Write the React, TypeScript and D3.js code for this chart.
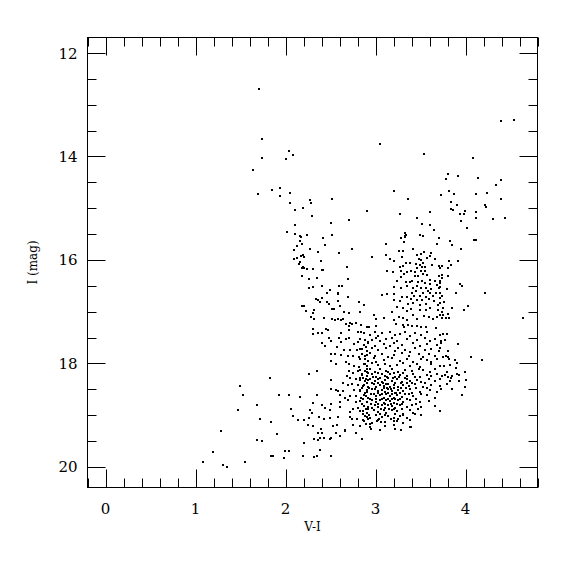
import React, { useEffect, useRef } from 'react';
import * as d3 from 'd3';

// [V-I, I] pairs, grouped by region of the diagram
const upperPoints: [number, number][] = [
  [1.71, 12.70], [1.74, 13.67], [1.74, 14.02], [1.64, 14.26], [2.04, 13.89], [2.08, 13.97], [2.01, 14.05],
  [1.85, 14.65], [1.94, 14.60], [1.69, 14.73], [1.94, 14.77], [2.05, 14.71], [2.05, 14.90], [2.19, 14.99],
  [2.11, 15.03], [2.27, 14.84], [2.28, 14.90], [2.52, 14.83], [2.29, 15.16], [2.11, 15.33], [2.50, 15.28],
  [2.71, 15.23], [2.91, 15.05], [3.05, 13.76], [3.21, 14.67], [3.36, 14.83], [3.27, 15.12],
];

const rightPoints: [number, number][] = [
  [4.39, 13.32], [4.54, 13.30], [3.54, 13.96], [4.08, 14.02], [3.81, 14.34], [3.78, 14.44], [3.92, 14.38],
  [4.14, 14.42], [4.39, 14.45], [4.34, 14.55], [3.82, 14.67], [3.87, 14.73], [3.73, 14.75], [4.12, 14.72],
  [4.24, 14.70], [4.39, 14.82], [3.84, 14.88], [3.90, 14.93], [4.22, 14.93], [4.23, 14.97], [3.61, 15.08],
  [3.84, 15.02], [3.86, 15.04], [3.99, 15.06], [4.12, 15.08], [3.94, 15.12], [3.98, 15.12], [4.12, 15.18],
  [4.30, 15.20], [4.44, 15.19], [3.95, 15.24], [3.46, 15.19], [3.52, 15.30], [3.60, 15.33], [3.65, 15.42],
  [4.02, 15.39], [3.49, 15.52], [3.53, 15.53], [3.70, 15.57], [3.33, 15.53], [3.33, 15.56], [3.28, 15.57],
  [4.09, 15.61], [4.12, 15.61], [3.83, 15.64], [3.85, 15.72], [3.95, 15.79], [3.92, 16.02], [3.82, 16.03],
  [3.84, 16.10], [3.74, 16.12], [3.72, 16.15], [3.80, 16.16], [3.74, 16.29], [3.80, 16.31], [3.72, 16.40],
  [3.94, 16.46], [3.96, 16.51], [3.72, 16.53], [3.79, 16.56], [3.89, 16.64], [4.22, 16.64], [3.72, 16.64],
  [3.72, 16.74], [3.76, 16.82], [3.72, 16.84], [4.03, 16.90], [3.85, 16.92], [3.98, 16.96], [3.74, 17.00],
  [3.75, 17.06], [3.80, 17.05], [3.74, 17.12], [4.64, 17.12], [3.75, 17.44], [3.79, 17.44], [3.73, 17.56],
  [3.77, 17.54], [3.92, 17.63], [3.72, 17.70], [3.81, 17.76], [4.06, 17.88], [4.18, 17.94], [3.78, 17.85],
  [3.80, 17.87], [3.75, 17.88], [3.82, 17.91], [3.91, 17.99], [3.76, 18.05], [3.89, 18.08], [3.99, 18.16],
  [3.79, 18.16], [3.91, 18.20], [3.93, 18.23], [3.77, 18.22], [3.74, 18.25], [3.80, 18.26], [3.84, 18.29],
  [3.74, 16.34], [3.72, 16.44], [3.74, 16.69], [3.75, 16.92], [3.72, 17.07], [3.78, 17.12], [3.82, 17.12],
  [3.93, 18.35], [3.99, 18.45], [3.85, 18.50], [3.96, 18.62],
];

const leftBranch: [number, number][] = [
  [2.02, 15.46], [2.11, 15.49], [2.16, 15.54], [2.17, 15.56], [2.24, 15.51], [2.52, 15.51], [2.42, 15.58],
  [2.16, 15.64], [2.18, 15.69], [2.13, 15.74], [2.44, 15.72], [2.27, 15.78], [2.09, 15.80], [2.74, 15.78],
  [2.59, 15.86], [2.36, 15.85], [2.19, 15.91], [2.17, 15.93], [2.21, 15.95], [2.13, 15.97], [2.09, 15.98],
  [2.16, 16.04], [2.15, 16.07], [2.39, 16.03], [2.19, 16.13], [2.18, 16.16], [2.21, 16.16], [2.24, 16.17],
  [2.30, 16.18], [2.41, 16.20], [2.42, 16.20], [2.68, 16.13], [2.18, 16.32], [2.26, 16.36], [2.35, 16.35],
  [2.69, 16.36], [2.41, 16.50], [2.26, 16.55], [2.31, 16.53], [2.49, 16.58], [2.59, 16.50], [2.63, 16.51],
  [2.58, 16.63], [2.58, 16.66], [2.46, 16.64], [2.69, 16.72], [2.40, 16.74], [2.34, 16.76], [2.36, 16.78],
  [2.46, 16.81], [2.48, 16.85], [2.38, 16.82], [2.58, 16.79], [2.82, 16.82], [2.87, 16.88], [2.60, 16.90],
  [2.18, 16.89], [2.21, 16.89], [2.52, 16.95], [2.54, 16.94], [2.23, 16.98], [2.30, 17.03], [2.28, 17.10],
  [2.32, 16.96], [2.65, 17.01], [2.70, 17.02], [2.83, 17.00], [2.32, 17.14], [2.43, 17.12], [2.52, 17.14],
  [2.55, 17.16], [2.58, 17.14], [2.62, 17.16], [2.64, 17.15], [2.67, 17.23], [2.72, 17.21], [2.74, 17.23],
  [2.78, 17.22], [2.84, 17.26], [2.71, 17.28], [2.90, 17.30], [2.31, 17.34], [2.45, 17.33], [2.47, 17.35],
];

const upperGiants: [number, number][] = [
  [3.12, 15.69], [3.32, 15.66], [3.68, 15.69], [3.42, 15.78], [3.26, 15.82], [3.31, 15.82], [3.54, 15.85],
  [3.50, 15.88], [3.46, 15.91], [3.62, 15.87], [3.12, 15.90], [2.96, 15.95], [3.16, 15.98], [3.20, 16.03],
  [3.29, 15.95], [3.48, 15.98], [3.50, 16.01], [3.57, 15.97], [3.61, 15.93], [3.66, 15.99], [3.38, 16.05],
  [3.34, 16.05], [3.45, 16.07], [3.49, 16.09], [3.53, 16.06], [3.27, 16.13], [3.30, 16.11], [3.46, 16.16],
  [3.52, 16.13], [3.55, 16.14], [3.63, 16.09], [3.71, 16.11], [3.13, 16.21], [3.19, 16.24], [3.28, 16.21],
  [3.35, 16.23], [3.39, 16.22], [3.44, 16.24], [3.51, 16.22], [3.55, 16.22], [3.57, 16.29], [3.53, 16.28],
  [3.47, 16.31], [3.44, 16.32], [3.28, 16.33], [3.32, 16.28], [3.61, 16.38], [3.70, 16.31], [3.66, 16.40],
  [3.24, 16.41], [3.34, 16.42], [3.38, 16.42], [3.41, 16.40], [3.47, 16.42], [3.52, 16.40], [3.55, 16.45],
  [3.61, 16.46], [3.68, 16.49], [3.21, 16.53], [3.28, 16.54], [3.35, 16.51], [3.42, 16.54], [3.46, 16.51],
  [3.50, 16.54], [3.56, 16.55], [3.62, 16.56], [3.71, 16.54], [3.40, 16.63], [3.45, 16.61], [3.53, 16.63],
  [3.58, 16.60], [3.61, 16.63], [3.67, 16.64], [3.07, 16.67], [3.13, 16.66], [3.21, 16.66], [3.29, 16.71],
  [3.35, 16.71], [3.43, 16.69], [3.49, 16.70], [3.56, 16.71], [3.64, 16.69], [3.39, 16.76], [3.46, 16.77],
  [3.52, 16.78], [3.59, 16.76], [3.65, 16.79], [3.20, 16.78], [3.27, 16.80], [3.36, 16.85], [3.42, 16.84],
  [3.49, 16.87], [3.56, 16.85], [3.69, 16.87], [3.24, 16.91], [3.30, 16.93], [3.35, 16.98], [3.39, 16.94],
  [3.49, 16.96], [3.56, 16.96], [3.61, 16.93], [3.69, 16.96], [3.18, 17.01], [2.98, 17.06], [3.01, 17.15],
  [3.09, 17.13], [3.20, 17.17], [3.26, 17.10], [3.31, 17.13], [3.35, 17.16], [3.42, 17.07], [3.46, 17.14],
  [3.54, 17.09], [3.59, 17.11], [3.64, 17.14], [3.68, 17.10], [3.23, 17.23], [3.31, 17.25], [3.36, 17.25],
  [3.41, 17.27], [3.46, 17.27], [3.50, 17.29], [3.56, 17.29], [3.67, 17.31], [2.93, 17.30], [3.01, 17.28],
  [3.32, 17.30], [3.33, 15.48], [3.34, 15.52],
];

const lowerLeft: [number, number][] = [
  [2.31, 17.43], [2.36, 17.41], [2.41, 17.41], [2.48, 17.50], [2.59, 17.51], [2.62, 17.41], [2.70, 17.36],
  [2.80, 17.40], [2.84, 17.40], [2.40, 17.60], [2.51, 17.57], [2.44, 17.67], [2.62, 17.59], [2.67, 17.53],
  [2.71, 17.51], [2.76, 17.63], [2.81, 17.59], [2.88, 17.54], [2.92, 17.58], [2.57, 17.69], [2.65, 17.74],
  [2.72, 17.74], [2.79, 17.75], [2.85, 17.73], [2.89, 17.68], [2.50, 17.81], [2.55, 17.82], [2.62, 17.84],
  [2.69, 17.86], [2.75, 17.85], [2.82, 17.88], [2.91, 17.83], [2.88, 17.92], [2.50, 17.96], [2.56, 18.01],
  [2.67, 17.98], [2.70, 18.02], [2.76, 18.06], [2.82, 18.07], [2.88, 18.01], [2.91, 18.10], [2.70, 18.14],
  [2.75, 18.18], [2.80, 18.15], [2.85, 18.20], [2.90, 18.17], [2.68, 18.25], [2.72, 18.28], [2.78, 18.30],
  [2.83, 18.28], [2.89, 18.30], [2.92, 18.33], [2.26, 18.21], [2.35, 18.15], [1.83, 18.28], [2.51, 18.32],
  [2.64, 18.38], [2.74, 18.39], [2.69, 18.42], [2.80, 18.42], [2.86, 18.43], [2.56, 18.52], [2.50, 18.50],
  [2.58, 18.54], [2.64, 18.53], [2.76, 18.52], [2.83, 18.54], [2.90, 18.51], [2.61, 18.62], [2.66, 18.66],
  [2.72, 18.64], [2.78, 18.64], [2.84, 18.66], [2.89, 18.64], [1.93, 18.61], [2.04, 18.62], [2.16, 18.65],
  [2.35, 18.61], [2.31, 18.77], [2.61, 18.74], [2.69, 18.71], [2.78, 18.75], [2.85, 18.78], [2.91, 18.75],
  [2.40, 18.81], [2.51, 18.79], [2.27, 18.91], [2.29, 18.95], [2.06, 18.88], [2.44, 18.86], [2.49, 18.90],
  [2.61, 18.84], [2.72, 18.94], [2.75, 18.88], [2.81, 18.86], [2.86, 18.92], [2.92, 18.88], [2.08, 19.01],
  [2.21, 19.09], [2.26, 19.06], [2.37, 19.04], [2.43, 19.08], [2.49, 19.05], [2.58, 19.04], [2.72, 19.04],
  [2.74, 19.08], [2.79, 19.07], [2.86, 19.10], [2.91, 19.04], [1.72, 19.08], [1.84, 19.14], [2.14, 19.10],
  [2.25, 19.19], [2.31, 19.21], [2.39, 19.26], [2.53, 19.22], [2.66, 19.28], [2.75, 19.20], [2.83, 19.22],
  [2.89, 19.18],
];

const faintPoints: [number, number][] = [
  [1.50, 18.44], [1.53, 18.62], [1.68, 18.81], [1.47, 18.90], [1.28, 19.31], [1.68, 19.49], [1.74, 19.51],
  [1.90, 19.36], [1.99, 19.69], [2.04, 19.69], [1.20, 19.72], [1.08, 19.90], [1.30, 19.97], [1.35, 20.00],
  [1.55, 19.90], [1.84, 19.80], [1.86, 19.79], [1.98, 19.82], [2.19, 19.80], [2.21, 19.54], [2.32, 19.81],
  [2.35, 19.79], [2.38, 19.68], [2.50, 19.80], [2.32, 19.47], [2.36, 19.49], [2.38, 19.44], [2.43, 19.44],
  [2.49, 19.47], [2.50, 19.44], [2.36, 19.34], [2.40, 19.35], [2.56, 19.35], [2.61, 19.41], [2.66, 19.30],
  [2.78, 19.35], [2.85, 19.47], [2.94, 19.17], [2.94, 19.23], [2.95, 19.26], [3.02, 19.12], [3.06, 19.13],
  [3.11, 19.22], [3.21, 19.20], [3.24, 19.12], [3.28, 19.28], [3.39, 19.23], [2.57, 19.20],
];

const clumpPoints: [number, number][] = [
  [2.87, 17.41], [2.94, 17.45], [2.99, 17.40], [3.03, 17.47], [3.07, 17.42], [3.16, 17.39], [3.22, 17.46],
  [3.27, 17.43], [3.33, 17.40], [3.38, 17.47], [3.44, 17.42], [3.51, 17.45], [3.57, 17.40], [3.72, 17.46],
  [2.83, 17.52], [2.96, 17.55], [3.01, 17.50], [3.05, 17.57], [3.12, 17.53], [3.18, 17.50], [3.24, 17.56],
  [3.35, 17.52], [3.46, 17.55], [3.55, 17.50], [3.61, 17.57], [3.66, 17.53],
  [2.87, 17.64], [2.92, 17.60], [2.99, 17.66], [3.09, 17.62], [3.16, 17.67], [3.20, 17.61], [3.29, 17.64],
  [3.42, 17.60], [3.49, 17.66], [3.57, 17.62], [3.68, 17.65], [3.73, 17.61],
  [2.83, 17.72], [2.90, 17.76], [2.96, 17.70], [3.03, 17.74], [3.12, 17.71], [3.22, 17.77], [3.25, 17.70],
  [3.33, 17.74], [3.38, 17.78], [3.44, 17.71], [3.55, 17.75], [3.62, 17.72], [3.70, 17.77],
  [2.85, 17.82], [2.88, 17.86], [2.94, 17.80], [2.99, 17.85], [3.07, 17.81], [3.14, 17.87], [3.20, 17.83],
  [3.29, 17.80], [3.37, 17.86], [3.48, 17.82], [3.53, 17.88], [3.59, 17.81], [3.66, 17.85],
  [2.83, 17.92], [2.92, 17.95], [2.98, 17.90], [3.01, 17.97], [3.09, 17.93], [3.18, 17.90], [3.27, 17.96],
  [3.35, 17.92], [3.42, 17.97], [3.51, 17.91], [3.57, 17.94], [3.62, 17.98], [3.68, 17.92], [3.88, 17.93],
  [2.87, 18.02], [2.90, 18.06], [2.96, 18.00], [3.03, 18.04], [3.11, 18.01], [3.16, 18.06], [3.24, 18.03],
  [3.31, 18.00], [3.38, 18.05], [3.46, 18.02], [3.49, 18.07], [3.62, 18.01], [3.72, 18.05], [3.83, 18.04],
  [2.83, 18.12], [2.88, 18.15], [2.94, 18.10], [2.99, 18.16], [3.05, 18.11], [3.12, 18.14], [3.18, 18.10],
  [3.25, 18.16], [3.33, 18.12], [3.40, 18.15], [3.48, 18.10], [3.53, 18.13], [3.61, 18.17], [3.66, 18.11],
  [2.85, 18.22], [2.90, 18.25], [2.96, 18.20], [3.01, 18.26], [3.07, 18.21], [3.11, 18.24], [3.16, 18.20],
  [3.22, 18.27], [3.27, 18.22], [3.35, 18.25], [3.42, 18.21], [3.49, 18.26], [3.57, 18.22], [3.62, 18.25],
  [3.68, 18.20], [3.85, 18.24],
  [2.83, 18.32], [2.88, 18.35], [2.94, 18.30], [2.99, 18.34], [3.03, 18.31], [3.07, 18.36], [3.11, 18.32],
  [3.14, 18.29], [3.18, 18.35], [3.24, 18.31], [3.29, 18.36], [3.35, 18.30], [3.38, 18.34], [3.46, 18.32],
  [3.51, 18.36], [3.59, 18.30], [3.66, 18.34], [3.72, 18.31], [3.83, 18.35], [4.01, 18.33],
  [2.87, 18.42], [2.92, 18.45], [2.98, 18.40], [3.01, 18.46], [3.05, 18.41], [3.09, 18.44], [3.12, 18.39],
  [3.16, 18.45], [3.20, 18.42], [3.25, 18.46], [3.31, 18.41], [3.37, 18.44], [3.44, 18.40], [3.53, 18.45],
  [3.62, 18.41], [3.72, 18.44], [3.79, 18.40],
  [2.83, 18.52], [2.90, 18.55], [2.96, 18.50], [3.03, 18.54], [3.07, 18.51], [3.11, 18.56], [3.14, 18.50],
  [3.18, 18.53], [3.22, 18.57], [3.25, 18.51], [3.31, 18.54], [3.38, 18.50], [3.49, 18.55], [3.61, 18.52],
  [3.68, 18.56], [3.73, 18.50],
  [2.87, 18.62], [2.92, 18.66], [2.98, 18.60], [3.01, 18.64], [3.05, 18.61], [3.09, 18.66], [3.12, 18.60],
  [3.16, 18.63], [3.20, 18.67], [3.24, 18.61], [3.29, 18.65], [3.37, 18.60], [3.42, 18.64], [3.57, 18.62],
  [3.66, 18.66],
  [2.83, 18.72], [2.90, 18.75], [2.96, 18.70], [3.01, 18.74], [3.05, 18.71], [3.09, 18.76], [3.12, 18.70],
  [3.16, 18.73], [3.20, 18.77], [3.25, 18.71], [3.31, 18.74], [3.38, 18.70], [3.49, 18.75], [3.59, 18.72],
  [2.87, 18.82], [2.92, 18.85], [2.99, 18.80], [3.03, 18.84], [3.07, 18.81], [3.11, 18.86], [3.14, 18.80],
  [3.18, 18.83], [3.22, 18.87], [3.27, 18.81], [3.35, 18.85], [3.40, 18.80], [3.51, 18.84], [3.66, 18.82],
  [2.83, 18.92], [2.90, 18.95], [2.98, 18.90], [3.03, 18.94], [3.09, 18.91], [3.12, 18.96], [3.18, 18.90],
  [3.24, 18.93], [3.31, 18.97], [3.38, 18.91], [3.42, 18.95], [3.72, 18.92],
  [2.88, 19.02], [2.94, 19.05], [3.01, 19.00], [3.07, 19.04], [3.14, 19.01], [3.20, 19.06], [3.27, 19.02],
  [3.35, 19.05], [3.51, 19.00],
  [2.87, 19.12], [2.96, 19.15], [3.03, 19.10], [3.11, 19.14], [3.20, 19.11], [3.31, 19.15], [3.38, 19.10],
  [2.94, 19.24], [3.05, 19.28], [3.11, 19.22], [3.22, 19.26], [3.38, 19.24],
];

// densest part of the clump, read from a closer look
const coreExtra: [number, number][] = [
  [2.92, 18.18], [3.03, 18.19], [3.14, 18.17], [3.20, 18.19], [3.30, 18.18],
  [2.86, 18.28], [2.97, 18.27], [3.05, 18.28], [3.13, 18.27], [3.19, 18.28], [3.26, 18.27], [3.33, 18.28],
  [3.44, 18.27],
  [2.90, 18.38], [2.96, 18.37], [3.03, 18.38], [3.08, 18.37], [3.14, 18.39], [3.22, 18.37], [3.28, 18.38],
  [3.35, 18.37], [3.41, 18.38], [3.55, 18.38],
  [2.85, 18.48], [2.93, 18.47], [2.99, 18.49], [3.09, 18.48], [3.13, 18.47], [3.17, 18.49], [3.21, 18.47],
  [3.28, 18.48], [3.34, 18.47], [3.45, 18.48], [3.57, 18.48],
  [2.88, 18.58], [2.95, 18.59], [3.03, 18.58], [3.07, 18.59], [3.14, 18.57], [3.18, 18.59], [3.23, 18.58],
  [3.27, 18.57], [3.33, 18.59], [3.40, 18.58], [3.50, 18.59],
  [2.86, 18.68], [2.94, 18.69], [3.00, 18.68], [3.07, 18.68], [3.14, 18.69], [3.18, 18.68], [3.22, 18.69],
  [3.27, 18.68], [3.35, 18.69], [3.45, 18.68],
  [2.85, 18.78], [2.95, 18.78], [3.03, 18.79], [3.10, 18.78], [3.17, 18.79], [3.24, 18.78], [3.29, 18.79],
  [3.45, 18.78],
  [2.89, 18.88], [2.96, 18.87], [3.06, 18.88], [3.15, 18.88], [3.20, 18.89], [3.29, 18.88], [3.47, 18.88],
  [2.86, 18.98], [2.93, 18.99], [3.05, 18.98], [3.11, 18.99], [3.22, 18.98], [3.30, 18.99], [3.44, 18.98],
  [2.92, 19.08], [3.04, 19.07], [3.17, 19.08], [3.25, 19.07],
];

const xTicks = [0, 1, 2, 3, 4];
const yTicks = [12, 14, 16, 18, 20];

const FONT = '"DejaVu Serif", serif';

const App = () => {
  const ref = useRef<SVGSVGElement | null>(null);

  useEffect(() => {
    const svg = d3.select(ref.current);
    svg.selectAll('*').remove();

    const x = d3.scaleLinear().domain([-0.2, 4.8]).range([87.5, 537.5]);
    const y = d3.scaleLinear().domain([11.7, 20.4]).range([37.5, 487.5]);
    const [x0, x1] = x.range();
    const [y0, y1] = y.range();

    const g = svg.append('g');

    // points
    const all = [
      ...upperPoints, ...rightPoints, ...leftBranch, ...upperGiants,
      ...lowerLeft, ...faintPoints, ...clumpPoints, ...coreExtra,
    ];
    g.append('g')
      .selectAll('rect')
      .data(all)
      .join('rect')
      .attr('x', d => Math.round(x(d[0])) - 1)
      .attr('y', d => Math.round(y(d[1])) - 1)
      .attr('width', 2)
      .attr('height', 2)
      .attr('fill', '#000');

    // frame
    g.append('rect')
      .attr('x', x0).attr('y', y0)
      .attr('width', x1 - x0).attr('height', y1 - y0)
      .attr('fill', 'none').attr('stroke', '#000').attr('stroke-width', 1);

    const ticks = g.append('g').attr('stroke', '#000').attr('stroke-width', 1);
    const major = 18, minor = 9;

    // x ticks, every 0.2, major on integers
    d3.range(-0.2, 4.81, 0.2).forEach(v => {
      const len = Math.abs(v - Math.round(v)) < 1e-6 ? major : minor;
      const px = Math.round(x(v)) + 0.5;
      ticks.append('line').attr('x1', px).attr('x2', px).attr('y1', y1).attr('y2', y1 - len);
      ticks.append('line').attr('x1', px).attr('x2', px).attr('y1', y0).attr('y2', y0 + len);
    });

    // y ticks, every 0.5, major on labelled values
    d3.range(12, 20.01, 0.5).forEach(v => {
      const len = yTicks.includes(v) ? major : minor;
      const py = Math.round(y(v)) + 0.5;
      ticks.append('line').attr('y1', py).attr('y2', py).attr('x1', x0).attr('x2', x0 + len);
      ticks.append('line').attr('y1', py).attr('y2', py).attr('x1', x1).attr('x2', x1 - len);
    });

    g.append('g').selectAll('text')
      .data(xTicks)
      .join('text')
      .attr('x', d => x(d))
      .attr('y', y1 + 26)
      .attr('text-anchor', 'middle')
      .style('font-family', FONT)
      .style('font-size', '15px')
      .text(d => d);

    g.append('g').selectAll('text')
      .data(yTicks)
      .join('text')
      .attr('x', x0 - 10)
      .attr('y', d => y(d) + 5.5)
      .attr('text-anchor', 'end')
      .style('font-family', FONT)
      .style('font-size', '15px')
      .text(d => d);

    g.append('text')
      .attr('x', (x0 + x1) / 2)
      .attr('y', 531)
      .attr('text-anchor', 'middle')
      .style('font-family', FONT)
      .style('font-size', '12px')
      .text('V-I');

    g.append('text')
      .attr('transform', `translate(37,${(y0 + y1) / 2}) rotate(-90)`)
      .attr('text-anchor', 'middle')
      .style('font-family', FONT)
      .style('font-size', '12px')
      .text('I (mag)');
  }, []);

  return (
    <div style={{ position: 'fixed', left: 0, top: 0, background: '#fff' }}>
      <svg ref={ref} width={575} height={575} style={{ display: 'block' }} />
    </div>
  );
};

export default App;
